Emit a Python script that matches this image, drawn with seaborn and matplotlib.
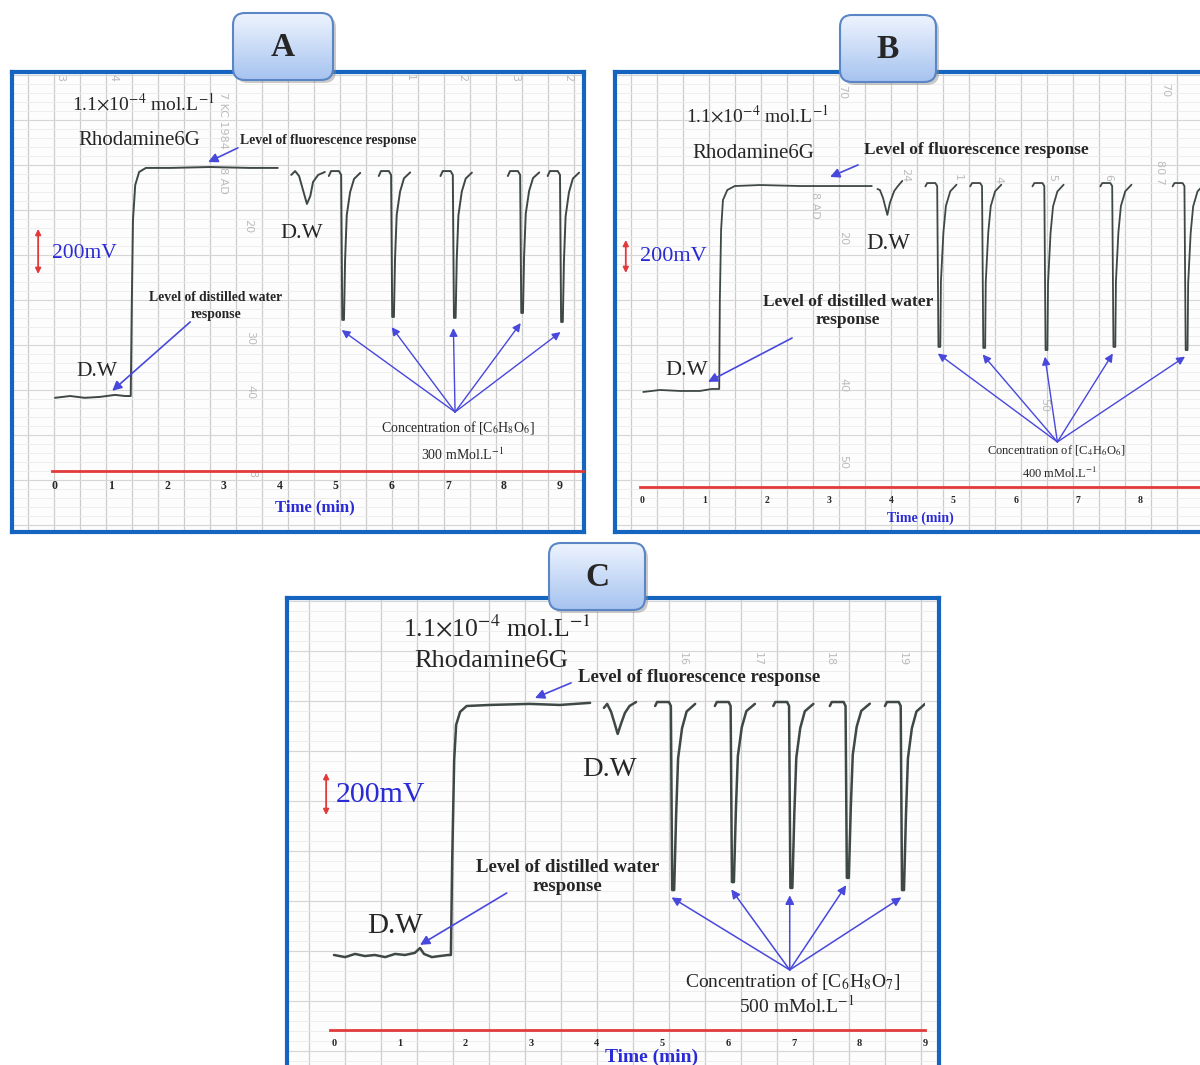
import numpy as np
import pandas as pd
import matplotlib
matplotlib.use('Agg')
import matplotlib.pyplot as plt
import seaborn as sns
from matplotlib.patches import FancyBboxPatch
from matplotlib.colors import LinearSegmentedColormap

nan = np.nan

# ### Trace data (time in min, signal in mV above the D.W baseline)
# NaN marks a gap between pasted pieces of the chart.

A_time = [0.00, 0.27, 0.53, 0.80, 1.07, 1.25, 1.35, 1.37, 1.39, 1.43, 1.50, 1.62, 2.05, 2.76, 3.48, 3.97, nan,
          4.21, 4.28, 4.35, 4.42, 4.49, 4.55, 4.60, 4.69, 4.81, nan,
          4.88, 4.92, 5.06, 5.10, 5.12, 5.15, 5.17, 5.20, 5.26, 5.33, 5.44, nan,
          5.77, 5.81, 5.95, 5.99, 6.01, 6.04, 6.06, 6.09, 6.15, 6.22, 6.33, nan,
          6.87, 6.91, 7.05, 7.09, 7.11, 7.14, 7.16, 7.19, 7.25, 7.32, 7.43, nan,
          8.07, 8.11, 8.25, 8.29, 8.31, 8.34, 8.36, 8.39, 8.45, 8.52, 8.63, nan,
          8.78, 8.82, 8.96, 9.00, 9.02, 9.05, 9.07, 9.10, 9.16, 9.23, 9.34]
A_signal = [-4, 4, -4, 0, 9, 4, 4, 430, 786, 941, 999, 1017, 1017, 1021, 1017, 1017, nan,
            986, 1003, 981, 919, 857, 892, 955, 986, 999, nan,
            981, 1003, 1003, 986, 342, 342, 608, 808, 910, 968, 995, nan,
            981, 1003, 1003, 986, 355, 355, 614, 809, 912, 971, 997, nan,
            981, 1003, 1003, 986, 351, 351, 612, 807, 912, 970, 996, nan,
            981, 1003, 1003, 986, 373, 373, 625, 814, 915, 972, 997, nan,
            981, 1003, 1003, 986, 333, 333, 601, 802, 909, 970, 996]
A_peak_time = [5.11, 6.00, 7.10, 8.30, 9.01]
A_peak_bottom = [342, 355, 351, 373, 333]

B_time = [0.02, 0.29, 0.61, 0.93, 1.12, 1.24, 1.25, 1.27, 1.30, 1.37, 1.49, 1.90, 2.54, 3.18, 3.69, nan,
          3.78, 3.82, 3.87, 3.94, 3.98, 4.05, 4.11, 4.18, nan,
          4.55, 4.58, 4.71, 4.74, 4.76, 4.79, 4.80, 4.84, 4.88, 4.95, 5.05, nan,
          5.27, 5.30, 5.43, 5.46, 5.48, 5.51, 5.52, 5.56, 5.60, 5.67, 5.77, nan,
          6.27, 6.30, 6.43, 6.46, 6.48, 6.51, 6.52, 6.56, 6.60, 6.67, 6.77, nan,
          7.36, 7.39, 7.52, 7.55, 7.57, 7.60, 7.61, 7.65, 7.69, 7.76, 7.86, nan,
          8.52, 8.55, 8.68, 8.71, 8.73, 8.76, 8.77, 8.81, 8.85, 8.92, 9.02]
B_signal = [-6, 6, 0, 0, 12, 12, 551, 976, 1157, 1218, 1242, 1248, 1242, 1242, 1242, nan,
            1224, 1218, 1170, 1067, 1139, 1212, 1242, 1273, nan,
            1240, 1260, 1260, 1242, 267, 267, 664, 962, 1121, 1210, 1250, nan,
            1240, 1260, 1260, 1242, 261, 261, 661, 960, 1120, 1210, 1250, nan,
            1240, 1260, 1260, 1242, 248, 248, 653, 956, 1118, 1209, 1250, nan,
            1240, 1260, 1260, 1242, 267, 267, 664, 962, 1121, 1210, 1250, nan,
            1240, 1260, 1260, 1242, 248, 248, 653, 956, 1118, 1209, 1250]
B_peak_time = [4.75, 5.47, 6.47, 7.56, 8.72]
B_peak_bottom = [267, 261, 248, 267, 248]

C_time = [0.00, 0.17, 0.32, 0.47, 0.62, 0.78, 0.93, 1.08, 1.23, 1.31, 1.37, 1.49, 1.61, 1.74, 1.78,
          1.80, 1.83, 1.86, 1.92, 2.02, 2.37, 2.98, 3.44, 3.90, nan,
          4.11, 4.16, 4.22, 4.28, 4.32, 4.37, 4.43, 4.50, 4.60, nan,
          4.89, 4.92, 5.10, 5.13, 5.15, 5.18, 5.21, 5.24, 5.30, 5.37, 5.50, nan,
          5.80, 5.83, 6.01, 6.04, 6.06, 6.09, 6.12, 6.15, 6.21, 6.28, 6.41, nan,
          6.69, 6.72, 6.90, 6.93, 6.95, 6.98, 7.01, 7.04, 7.10, 7.17, 7.30, nan,
          7.55, 7.58, 7.76, 7.79, 7.81, 7.84, 7.87, 7.90, 7.96, 8.03, 8.16, nan,
          8.39, 8.42, 8.60, 8.63, 8.65, 8.68, 8.71, 8.74, 8.80, 8.87, 9.00]
C_signal = [0, -10, 5, -5, 0, -10, 5, 0, 10, 33, 5, -10, -5, 0, 0,
            452, 928, 1095, 1157, 1185, 1190, 1195, 1190, 1200, nan,
            1176, 1195, 1157, 1095, 1052, 1100, 1152, 1185, 1204, nan,
            1185, 1204, 1204, 1185, 309, 309, 667, 936, 1079, 1159, 1195, nan,
            1185, 1204, 1204, 1185, 347, 347, 690, 947, 1084, 1161, 1195, nan,
            1185, 1204, 1204, 1185, 319, 319, 673, 939, 1080, 1160, 1195, nan,
            1185, 1204, 1204, 1185, 367, 367, 702, 953, 1087, 1162, 1196, nan,
            1185, 1204, 1204, 1185, 309, 309, 667, 936, 1079, 1159, 1195]
C_peak_time = [5.14, 6.05, 6.94, 7.80, 8.64]
C_peak_bottom = [309, 347, 319, 367, 309]

scale_mv = 200

# ### Styling
sns.set_style('white')
plt.rcParams['font.family'] = ['Liberation Serif', 'DejaVu Serif']
plt.rcParams['mathtext.fontset'] = 'stix'

FRAME = '#1565c0'
RED = '#e23a3a'
BLUE = '#2a2ad6'
ARROW = '#4848dc'
TRACE = '#3f4747'
PAPER_TXT = '#bcbcbc'

HEADER = r'1.1$\times$10$^{-4}$ mol.L$^{-1}$'

W, H = 1200, 1065
fig = plt.figure(figsize=(12, 10.65), dpi=100)
fig.patch.set_facecolor('white')


def rect(x0, y0, x1, y1):
    return [x0 / W, 1 - y1 / H, (x1 - x0) / W, (y1 - y0) / H]


def paper(x0, y0, x1, y1, step_x, step_y):
    # chart-paper background with the blue frame
    ax = fig.add_axes(rect(x0, y0, x1, y1))
    ax.set_xlim(x0, x1)
    ax.set_ylim(y1, y0)
    ax.set_xticks(np.arange(x0 + step_x * 0.6, x1, step_x))
    ax.set_yticks(np.arange(y0 + step_y * 0.3, y1, step_y * 5))
    ax.set_yticks(np.arange(y0 + step_y * 0.3, y1, step_y), minor=True)
    ax.grid(True, axis='x', which='major', color='#cdcdcd', lw=0.9)
    ax.grid(True, axis='y', which='major', color='#d6d6d6', lw=0.8)
    ax.grid(True, axis='y', which='minor', color='#ececec', lw=0.6)
    ax.tick_params(which='both', length=0, labelbottom=False, labelleft=False)
    ax.set_facecolor('#fdfdfd')
    for s in ax.spines.values():
        s.set_visible(True)
        s.set_color(FRAME)
        s.set_linewidth(3)
    return ax


def trace_axes(box):
    ax = fig.add_axes(rect(*box))
    ax.set_facecolor('none')
    for side in ['top', 'left', 'right']:
        ax.spines[side].set_visible(False)
    ax.spines['bottom'].set_color(RED)
    ax.spines['bottom'].set_linewidth(2)
    return ax


def plot_trace(ax, time, signal, lw):
    df = pd.DataFrame({'time': time, 'signal': signal})
    df['segment'] = df['signal'].isna().cumsum()
    df = df.dropna()
    sns.lineplot(data=df, x='time', y='signal', units='segment', estimator=None,
                 sort=False, color=TRACE, lw=lw, ax=ax, legend=False)


def finish_axis(ax, xlim, ylim, ticks, tick_size, label_size, label_xy):
    ax.set_xlim(xlim)
    ax.set_ylim(ylim)
    ax.set_yticks([])
    ax.set_ylabel('')
    ax.set_xticks(ticks, labels=[str(t) for t in ticks], fontweight='bold', fontsize=tick_size)
    ax.tick_params(axis='x', color=RED, direction='inout', length=7, width=1.3, pad=3)
    ax.set_xlabel('Time (min)', color=BLUE, fontweight='bold', fontsize=label_size)
    ax.xaxis.set_label_coords(*label_xy)


def arrow(ax, start, end, lw=1.2, ms=14):
    ax.annotate('', xy=end, xytext=start, annotation_clip=False,
                arrowprops=dict(arrowstyle='-|>', color=ARROW, lw=lw, mutation_scale=ms,
                                shrinkA=0, shrinkB=0))


def scale_bar(ax, t, y0):
    ax.annotate('', xy=(t, y0 + scale_mv), xytext=(t, y0), annotation_clip=False,
                arrowprops=dict(arrowstyle='<|-|>', color=RED, lw=1.3, mutation_scale=8,
                                shrinkA=0, shrinkB=0))


def paper_marks(ax, marks):
    for x, y, s in marks:
        ax.text(x, y, s, color=PAPER_TXT, fontsize=8, rotation=-90, ha='center', va='center',
                family='DejaVu Sans')


def tag(x0, y0, x1, y1, letter):
    ax = fig.add_axes(rect(x0 - 2, y0 - 2, x1 + 6, y1 + 6), zorder=10)
    ax.set_facecolor('none')
    ax.axis('off')
    w, h = x1 - x0, y1 - y0
    shadow = FancyBboxPatch((x0 + 3, y0 + 3), w, h, boxstyle='round,pad=0,rounding_size=12',
                            fc='#8a8a8a', ec='none', alpha=0.45)
    ax.add_patch(shadow)
    box = FancyBboxPatch((x0, y0), w, h, boxstyle='round,pad=0,rounding_size=12',
                         fc='none', ec='#5b86c5', lw=1.5, zorder=3)
    ax.add_patch(box)
    cmap = LinearSegmentedColormap.from_list('tag', ['#eef4fe', '#a6c3f0'])
    grad = ax.imshow(np.linspace(0, 1, 64)[:, None], cmap=cmap, extent=(x0, x1, y1, y0),
                     aspect='auto', zorder=2)
    grad.set_clip_path(box)
    ax.set_xlim(x0 - 2, x1 + 6)
    ax.set_ylim(y1 + 6, y0 - 2)
    ax.text((x0 + x1) / 2, (y0 + y1) / 2 + 1, letter, fontsize=24, fontweight='bold',
            ha='center', va='center', zorder=4)


# ### Panel A
bg = paper(12, 72, 584, 532, 26, 9)
paper_marks(bg, [(60, 78, '3'), (113, 78, '4'), (410, 78, '1'), (462, 78, '2'), (515, 78, '3'),
                 (568, 78, '2'), (223, 120, '7 KC 1984'), (223, 180, '8 AD'), (248, 226, '20'),
                 (250, 338, '30'), (250, 392, '40'), (252, 474, '8')])
ax = trace_axes((52, 72, 583, 471))
plot_trace(ax, A_time, A_signal, 1.4)
finish_axis(ax, (-0.053, 9.41), (-329, 1443), list(range(10)), 8.5, 12, (0.495, -0.070))
ax.text(1.57, 1305, HEADER, fontsize=14, ha='center', va='center')
ax.text(1.50, 1141, 'Rhodamine6G', fontsize=15, ha='center', va='center')
ax.text(3.30, 1141, 'Level of fluorescence response', fontsize=9.8, fontweight='bold',
        ha='left', va='center')
arrow(ax, (3.26, 1106), (2.73, 1043))
ax.text(4.39, 724, 'D.W', fontsize=16, ha='center', va='center')
scale_bar(ax, -0.30, 546)
ax.text(-0.05, 635, '200mV', color=BLUE, fontsize=15.5, ha='left', va='center')
ax.text(2.87, 404, 'Level of distilled water\nresponse', fontsize=9.8, fontweight='bold',
        ha='center', va='center', linespacing=1.4)
arrow(ax, (2.41, 333), (1.02, 27))
ax.text(0.75, 111, 'D.W', fontsize=15.5, ha='center', va='center')
for t, b in zip(A_peak_time, A_peak_bottom):
    arrow(ax, (7.13, -67), (t, b - 45), lw=1.0, ms=12)
ax.text(7.18, -138, r'Concentration of [C$_6$H$_8$O$_6$]', fontsize=10, ha='center', va='center')
ax.text(7.27, -258, r'300 mMol.L$^{-1}$', fontsize=10, ha='center', va='center')

# ### Panel B
bg = paper(615, 72, 1212, 532, 26, 9)
paper_marks(bg, [(842, 92, '70'), (815, 205, '8 AD'), (843, 238, '20'), (843, 385, '40'),
                 (843, 462, '50'), (1044, 405, '50'), (1165, 90, '70'), (905, 175, '24'),
                 (958, 177, '1'), (998, 180, '4'), (1052, 178, '5'), (1108, 178, '6'),
                 (1160, 172, '80 7')])
ax = trace_axes((640, 72, 1200, 487))
plot_trace(ax, B_time, B_signal, 1.3)
finish_axis(ax, (-0.032, 8.96), (-582, 1933), list(range(9)), 7, 10, (0.5, -0.058))
ax.text(1.85, 1673, HEADER, fontsize=14, ha='center', va='center')
ax.text(1.78, 1442, 'Rhodamine6G', fontsize=15, ha='center', va='center')
ax.text(3.57, 1460, 'Level of fluorescence response', fontsize=12.5, fontweight='bold',
        ha='left', va='center')
arrow(ax, (3.47, 1370), (3.02, 1297))
ax.text(3.95, 891, 'D.W', fontsize=16.5, ha='center', va='center')
scale_bar(ax, -0.26, 715)
ax.text(-0.03, 812, '200mV', color=BLUE, fontsize=16, ha='left', va='center')
ax.text(3.31, 485, 'Level of distilled water\nresponse', fontsize=12.5, fontweight='bold',
        ha='center', va='center', linespacing=1.2)
arrow(ax, (2.41, 321), (1.06, 55))
ax.text(0.72, 127, 'D.W', fontsize=16, ha='center', va='center')
for t, b in zip(B_peak_time, B_peak_bottom):
    arrow(ax, (6.67, -309), (t, b - 40), lw=1.0, ms=12)
ax.text(6.65, -364, r'Concentration of [C$_4$H$_6$O$_6$]', fontsize=9, ha='center', va='center')
ax.text(6.71, -497, r'400 mMol.L$^{-1}$', fontsize=9, ha='center', va='center')

# ### Panel C
bg = paper(287, 598, 939, 1080, 36, 10)
paper_marks(bg, [(683, 659, '16'), (758, 659, '17'), (830, 659, '18'), (903, 659, '19')])
ax = trace_axes((330, 598, 925, 1030))
plot_trace(ax, C_time, C_signal, 1.8)
finish_axis(ax, (-0.061, 9.0), (-357, 1699), list(range(10)), 7.5, 14, (0.54, -0.044))
ax.text(2.48, 1557, HEADER, fontsize=18.5, ha='center', va='center')
ax.text(2.40, 1399, 'Rhodamine6G', fontsize=19, ha='center', va='center')
ax.text(3.71, 1323, 'Level of fluorescence response', fontsize=13.5, fontweight='bold',
        ha='left', va='center')
arrow(ax, (3.61, 1295), (3.06, 1223))
ax.text(4.20, 881, 'D.W', fontsize=20.5, ha='center', va='center')
scale_bar(ax, -0.12, 666)
ax.text(0.03, 762, '200mV', color=BLUE, fontsize=21.5, ha='left', va='center')
ax.text(3.56, 371, 'Level of distilled water\nresponse', fontsize=13.5, fontweight='bold',
        ha='center', va='center', linespacing=1.15)
arrow(ax, (2.63, 295), (1.31, 48))
ax.text(0.93, 138, 'D.W', fontsize=21, ha='center', va='center')
for t, b in zip(C_peak_time, C_peak_bottom):
    arrow(ax, (6.94, -71), (t, b - 35), lw=1.1, ms=13)
ax.text(6.99, -124, r'Concentration of [C$_6$H$_8$O$_7$]', fontsize=14, ha='center', va='center')
ax.text(7.05, -243, r'500 mMol.L$^{-1}$', fontsize=14, ha='center', va='center')

# ### Panel tags
tag(233, 13, 333, 80, 'A')
tag(840, 15, 936, 82, 'B')
tag(549, 543, 645, 610, 'C')

fig.savefig('out.png', dpi=100)
